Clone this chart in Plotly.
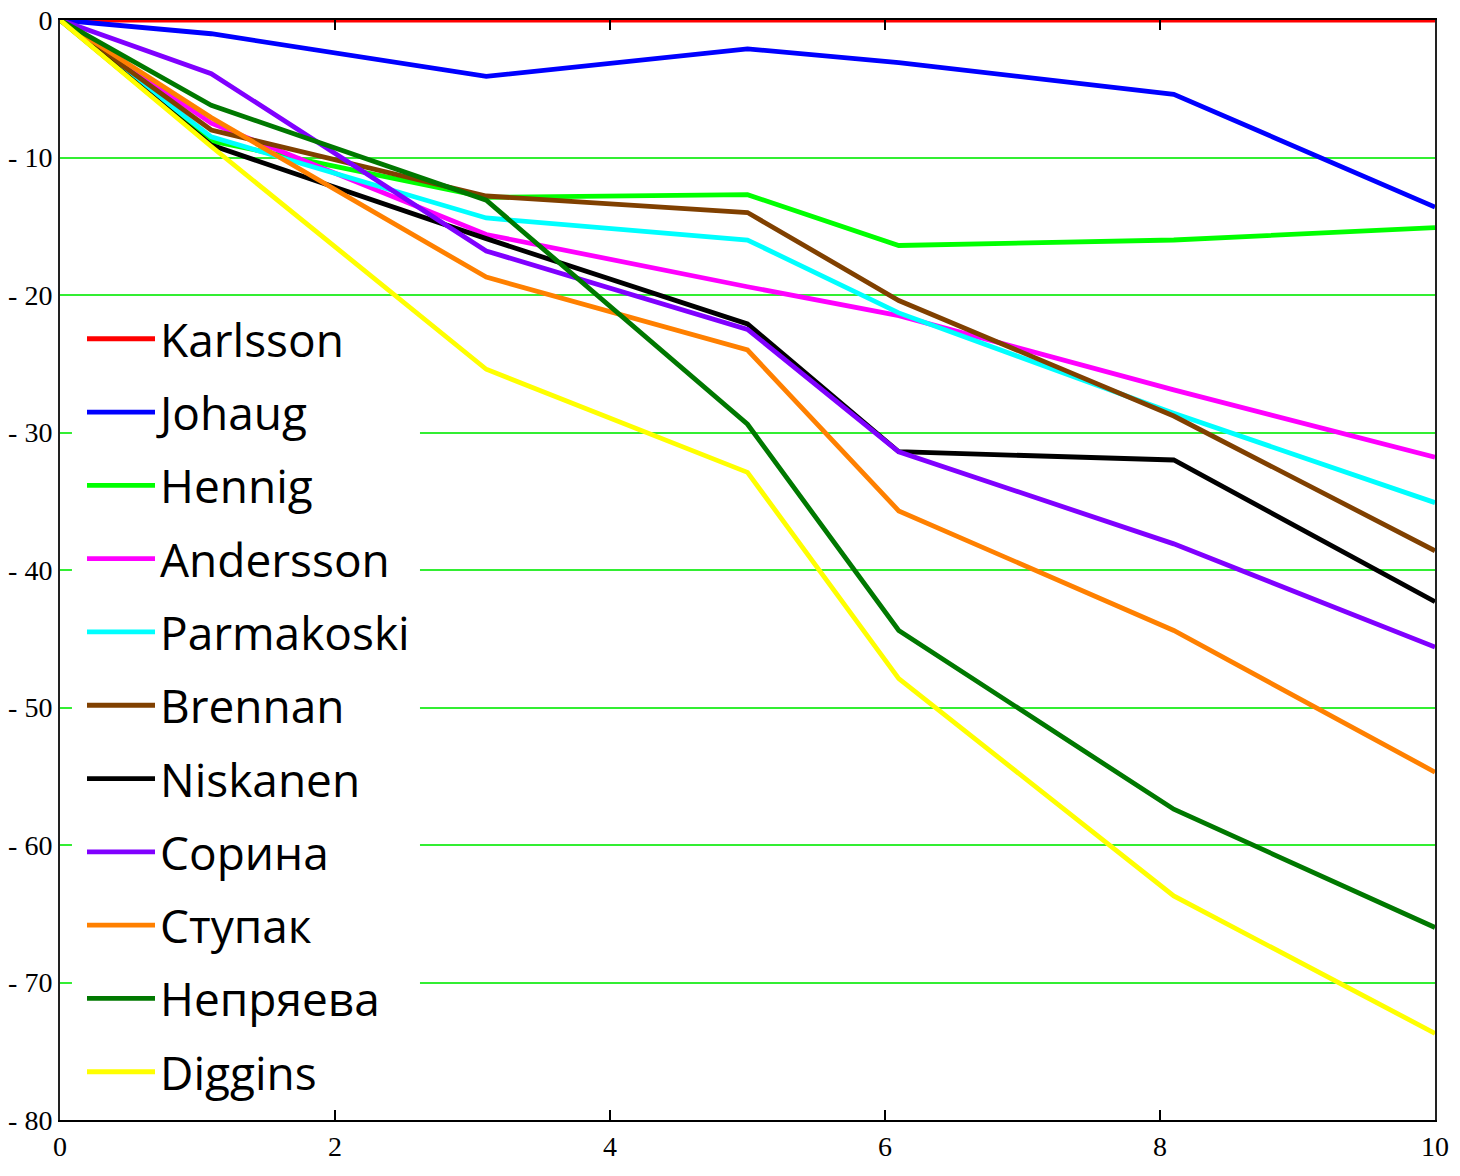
import plotly.graph_objects as go

checkpoints = [0, 1.1, 3.1, 5.0, 6.1, 8.1, 10.0]

karlsson   = [0, 0.0, 0.0, 0.0, 0.0, 0.0, 0.0]
johaug     = [0, -1.0, -4.1, -2.1, -3.1, -5.4, -13.6]
hennig     = [0, -8.8, -12.9, -12.7, -16.4, -16.0, -15.1]
andersson  = [0, -7.5, -15.6, -19.4, -21.5, -26.9, -31.8]
parmakoski = [0, -8.5, -14.4, -16.0, -21.3, -28.6, -35.1]
brennan    = [0, -8.0, -12.8, -14.0, -20.4, -28.8, -38.6]
niskanen   = [0, -9.1, -15.9, -22.1, -31.4, -32.0, -42.3]
sorina     = [0, -3.9, -16.8, -22.5, -31.4, -38.1, -45.6]
stupak     = [0, -7.1, -18.7, -24.0, -35.7, -44.4, -54.7]
nepryaeva  = [0, -6.2, -13.1, -29.4, -44.4, -57.4, -66.0]
diggins    = [0, -9.2, -25.4, -32.9, -47.9, -63.7, -73.7]

names = ["Karlsson", "Johaug", "Hennig", "Andersson", "Parmakoski", "Brennan",
         "Niskanen", "Сорина", "Ступак", "Непряева", "Diggins"]
series = [karlsson, johaug, hennig, andersson, parmakoski, brennan,
          niskanen, sorina, stupak, nepryaeva, diggins]
colors = ["#ff0000", "#0000ff", "#00ff00", "#ff00ff", "#00ffff", "#804000",
          "#000000", "#8000ff", "#ff8000", "#007800", "#ffff00"]

y_ticks = [0, -10, -20, -30, -40, -50, -60, -70, -80]
y_ticktext = ["0" if v == 0 else "- " + str(-v) for v in y_ticks]
x_ticks = [0, 2, 4, 6, 8, 10]

fig = go.Figure()
for name, vals, col in zip(names, series, colors):
    fig.add_trace(go.Scatter(x=checkpoints, y=vals, mode="lines", name=name,
                             legendgroup=name,
                             line=dict(color=col, width=4.8)))

# white legend panel: above the gridlines, beneath the data lines
fig.add_shape(type="rect", xref="x", yref="y",
              x0=0.087, x1=2.618, y0=-79.3, y1=-22.0,
              fillcolor="white", line=dict(width=0), layer="between")

fig.update_layout(
    width=1460, height=1176,
    margin=dict(l=60, r=25, t=19.5, b=56, autoexpand=False),
    paper_bgcolor="white", plot_bgcolor="white",
    showlegend=True,
    legend=dict(x=0.016, y=0.7433, xanchor="left", yanchor="top",
                bgcolor="rgba(0,0,0,0)", borderwidth=0,
                font=dict(family="Open Sans", size=46, color="black"),
                itemwidth=68, tracegroupgap=10.5),
)
fig.update_xaxes(range=[0, 10], tickvals=x_ticks, showgrid=False, zeroline=False,
                 automargin=False, ticklabeloverflow="allow",
                 showline=True, linecolor="black", linewidth=2, mirror="allticks",
                 ticks="inside", ticklen=10, tickcolor="black", tickwidth=1.5,
                 tickfont=dict(family="Liberation Serif", size=28, color="black"))
fig.update_yaxes(range=[-80, 0], tickvals=y_ticks, ticktext=y_ticktext,
                 automargin=False, ticklabeloverflow="allow",
                 showgrid=True, gridcolor="#33ee33", gridwidth=1.5, zeroline=False,
                 showline=True, linecolor="#222222", linewidth=2, mirror=True,
                 ticks="", tickfont=dict(family="Liberation Serif", size=28, color="black"))

fig.write_html("out.html", config={"displayModeBar": False},
               post_script="document.body.style.margin='0';document.body.style.padding='0';")
